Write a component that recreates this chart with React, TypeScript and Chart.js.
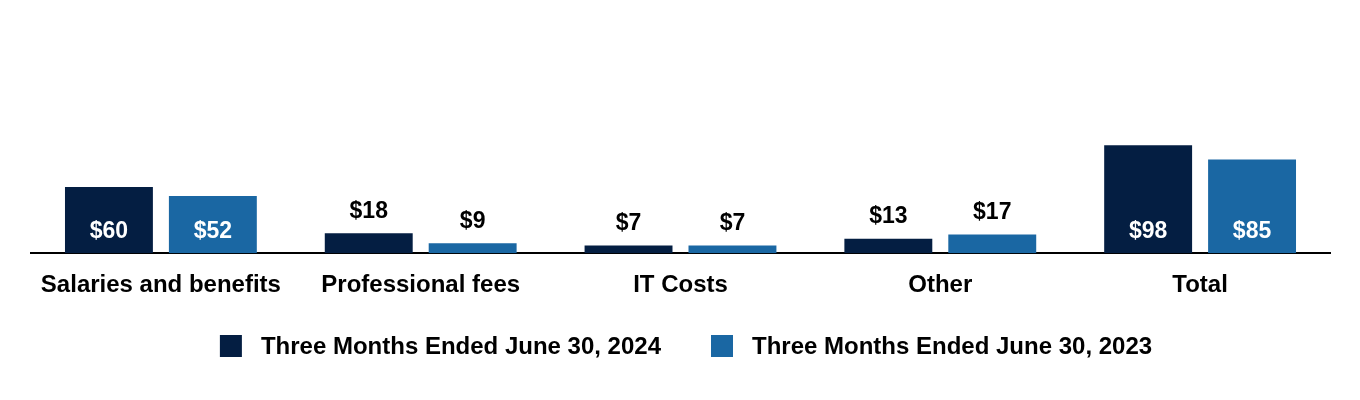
import React, { useEffect, useRef } from "react";
import { Chart, registerables } from "chart.js";

Chart.register(...registerables);

const categories = ["Salaries and benefits", "Professional fees", "IT Costs", "Other", "Total"];
const series2024 = [60, 18, 7, 13, 98];
const series2023 = [52, 9, 7, 17, 85];
const seriesLabels = ["Three Months Ended June 30, 2024", "Three Months Ended June 30, 2023"];
const seriesColors = ["#041E42", "#1A67A3"];
const yMax = 100;

const FONT = "'Liberation Sans', Arial, Helvetica, sans-serif";

const valueLabels = {
  id: "valueLabels",
  afterDatasetsDraw(chart: any) {
    const ctx = chart.ctx;
    ctx.save();
    ctx.font = `bold 23px ${FONT}`;
    ctx.textAlign = "center";
    ctx.textBaseline = "middle";
    chart.data.datasets.forEach((ds: any, di: number) => {
      const meta = chart.getDatasetMeta(di);
      meta.data.forEach((bar: any, i: number) => {
        const v = ds.data[i];
        const { x, y, base } = bar.getProps(["x", "y", "base"], true);
        const inside = v >= 30;
        ctx.fillStyle = inside ? "#ffffff" : "#000000";
        const ty = inside ? base - 22 : y - 22;
        ctx.fillText("$" + v, x, ty);
      });
    });
    ctx.restore();
  },
};

const customLegend = {
  id: "customLegend",
  afterDraw(chart: any) {
    const ctx = chart.ctx;
    ctx.save();
    ctx.font = `bold 24px ${FONT}`;
    ctx.textBaseline = "middle";
    ctx.textAlign = "left";
    const box = 22;
    const gap = 19;
    const spacing = 50;
    const labels = chart.data.datasets.map((d: any) => d.label as string);
    const widths = labels.map((t: string) => ctx.measureText(t).width);
    const total =
      widths.reduce((a: number, w: number) => a + box + gap + w, 0) + spacing * (labels.length - 1);
    let x = (chart.width - total) / 2 + 6;
    const cy = 346;
    labels.forEach((t: string, i: number) => {
      ctx.fillStyle = chart.data.datasets[i].backgroundColor;
      ctx.fillRect(x, cy - box / 2, box, box);
      ctx.fillStyle = "#000000";
      ctx.fillText(t, x + box + gap, cy + 1);
      x += box + gap + widths[i] + spacing;
    });
    ctx.restore();
  },
};

export default function App() {
  const canvasRef = useRef<HTMLCanvasElement | null>(null);

  useEffect(() => {
    document.body.style.margin = "0";
    const canvas = canvasRef.current;
    if (!canvas) return;
    const chart = new Chart(canvas, {
      type: "bar",
      data: {
        labels: categories,
        datasets: [
          {
            label: seriesLabels[0],
            data: series2024,
            backgroundColor: seriesColors[0],
            categoryPercentage: 0.8,
            barPercentage: 0.846,
          },
          {
            label: seriesLabels[1],
            data: series2023,
            backgroundColor: seriesColors[1],
            categoryPercentage: 0.8,
            barPercentage: 0.846,
          },
        ],
      },
      options: {
        animation: false,
        responsive: true,
        maintainAspectRatio: false,
        layout: { padding: { top: 143, bottom: 82, left: 31, right: 30 } },
        plugins: {
          legend: { display: false },
          tooltip: { enabled: false },
          title: { display: false },
        },
        scales: {
          x: {
            grid: { display: false, drawTicks: false },
            border: { display: true, color: "#000000", width: 2 },
            ticks: {
              color: "#000000",
              padding: 18,
              font: { family: FONT, size: 24, weight: "bold" },
              maxRotation: 0,
              autoSkip: false,
            },
          },
          y: {
            display: false,
            min: 0,
            max: yMax,
          },
        },
      },
      plugins: [valueLabels, customLegend],
    });
    return () => chart.destroy();
  }, []);

  return (
    <div style={{ width: "1360px", height: "400px", position: "relative" }}>
      <canvas ref={canvasRef} />
    </div>
  );
}
